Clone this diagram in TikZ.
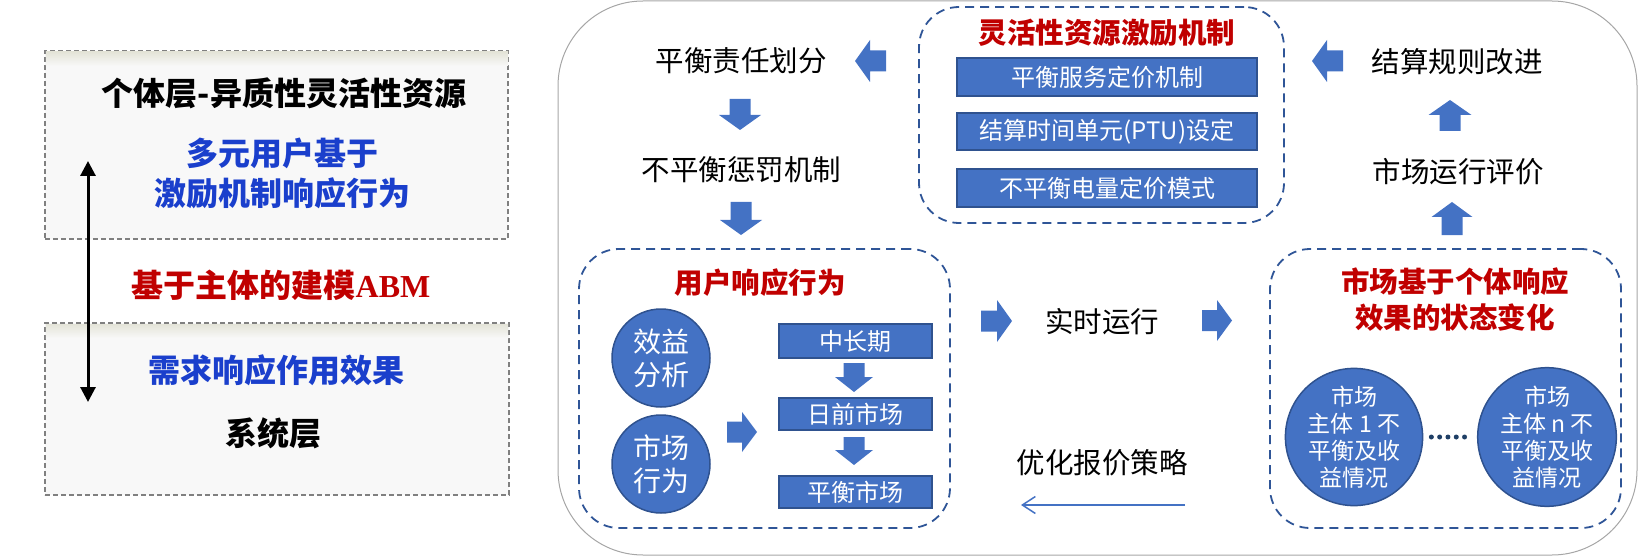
\documentclass[tikz,border=0pt]{standalone}
\usepackage{fontspec}
\setmainfont{Noto Sans CJK SC}
\newfontfamily\timesbf{Liberation Serif}
\usetikzlibrary{arrows.meta}
\definecolor{sblue}{HTML}{4472C4}
\definecolor{sborder}{HTML}{2F528F}
\definecolor{dblue}{HTML}{2F5597}
\definecolor{tblue}{HTML}{1A3FCC}
\definecolor{tred}{HTML}{C00000}
\definecolor{lgray}{HTML}{F8F8F8}
\definecolor{bandgray}{HTML}{E4E4D8}
\definecolor{dotblue}{HTML}{1F3F66}
\definecolor{framegray}{HTML}{A6A6A6}
\tikzset{
  txt/.style={inner sep=0, align=center, text=black, font=\fontsize{28.5}{34}\selectfont},
  lefttxt/.style={inner sep=0, align=center, font=\fontsize{32}{40}\selectfont\bfseries},
  redtitle/.style={inner sep=0, align=center, text=tred, font=\fontsize{28.5}{36}\selectfont\bfseries},
  bluebox/.style={draw=sborder, line width=1.5pt, fill=sblue, text=white, inner sep=0, font=\fontsize{24}{28}\selectfont},
  bluecircle/.style={circle, draw=sborder, line width=1.5pt, fill=sblue, text=white, inner sep=0, align=center},
  dashbox/.style={draw=dblue, line width=1.8pt, dash pattern=on 9pt off 6pt, rounded corners=40pt, inner sep=0},
  graybox/.style={draw=gray, fill=lgray, line width=1.5pt, dash pattern=on 5pt off 3pt, inner sep=0},
  pics/barr/.style 2 args={code={
    \fill[sblue] ({-#1/2},-10.5) -- ({#1/2-15},-10.5) -- ({#1/2-15},{-#2/2}) -- ({#1/2},0)
      -- ({#1/2-15},{#2/2}) -- ({#1/2-15},10.5) -- ({-#1/2},10.5) -- cycle;}}
}
\begin{document}
\begin{tikzpicture}[x=1pt,y=-1pt]
\useasboundingbox (0,0) rectangle (1638,556);

% ---------- left panel ----------
\node[graybox, minimum width=463pt, minimum height=188pt] (topbox) at (276.5,145) {};
\shade[top color=bandgray, bottom color=lgray] (45.8,52) rectangle (508.2,66);
\node[graybox, minimum width=464pt, minimum height=172pt] (botbox) at (277,409) {};
\shade[top color=bandgray, bottom color=lgray] (45.8,324) rectangle (508.2,338);

\node[lefttxt, text=black] (t1) at (284,93) {个体层-异质性灵活性资源};
\node[lefttxt, text=tblue] (t2) at (282,173) {多元用户基于\\激励机制响应行为};
\node[lefttxt, text=tred] (t3) at (281,285) {基于主体的建模{\timesbf\bfseries ABM}};
\node[lefttxt, text=tblue] (t4) at (276,370) {需求响应作用效果};
\node[lefttxt, text=black] (t5) at (273,433) {系统层};

\coordinate (d1) at (88,161);
\coordinate (d2) at (88,402);
\draw[line width=3pt, {Triangle[length=15pt,width=15pt]}-{Triangle[length=15pt,width=15pt]}] (d1) -- (d2);

% ---------- right panel ----------
\node[draw=framegray, line width=1pt, rounded corners=85pt, minimum width=1079pt, minimum height=554pt, inner sep=0] (frame) at (1097.5,278) {};

% top middle box
\node[dashbox, minimum width=365pt, minimum height=216pt] (g1) at (1101.5,115) {};
\node[redtitle] (g1t) at (1107,33) {灵活性资源激励机制};
\node[bluebox, minimum width=300pt, minimum height=38pt] (r1) at (1107,77) {平衡服务定价机制};
\node[bluebox, minimum width=300pt, minimum height=37pt] (r2) at (1107,131.5) {结算时间单元(PTU)设定};
\node[bluebox, minimum width=300pt, minimum height=38pt] (r3) at (1107,188) {不平衡电量定价模式};

% left column
\node[txt] (p1) at (741,61) {平衡责任划分};
\node[txt] (p2) at (741.5,170) {不平衡惩罚机制};
\pic[rotate=180] at (870.5,61) {barr={31}{42}};
\pic[rotate=-90] at (740,114.5) {barr={31}{42}};
\pic[rotate=-90] at (741,218.5) {barr={33}{42}};

% right column
\node[txt] (q1) at (1457,62) {结算规则改进};
\node[txt] (q2) at (1458,172) {市场运行评价};
\pic[rotate=180] at (1327.5,61) {barr={31}{42}};
\pic[rotate=90] at (1450,115.5) {barr={31}{43}};
\pic[rotate=90] at (1452,218.5) {barr={33}{41}};

% user response box
\node[dashbox, minimum width=371pt, minimum height=279pt] (g2) at (764.5,388.5) {};
\node[redtitle] (g2t) at (760,283) {用户响应行为};
\node[bluecircle, minimum size=98pt, font=\fontsize{28}{33}\selectfont] (c1) at (661,358) {效益\\分析};
\node[bluecircle, minimum size=98pt, font=\fontsize{28}{33}\selectfont] (c2) at (661,464) {市场\\行为};
\pic at (742,432) {barr={30}{40}};
\node[bluebox, minimum width=153pt, minimum height=34pt] (b1) at (855.5,341) {中长期};
\node[bluebox, minimum width=153pt, minimum height=32pt] (b2) at (855.5,414) {日前市场};
\node[bluebox, minimum width=153pt, minimum height=32pt] (b3) at (855.5,492) {平衡市场};
\pic[rotate=-90] at (854,377.5) {barr={29}{38}};
\pic[rotate=-90] at (854,451) {barr={28}{38}};

% middle
\pic at (996.5,321) {barr={31}{42}};
\node[txt] (m1) at (1102,322) {实时运行};
\pic at (1217,320.5) {barr={30}{41}};
\node[txt] (m2) at (1102,463) {优化报价策略};
\coordinate (a1) at (1185,505);
\coordinate (a2) at (1021,505);
\draw[sblue, line width=1.5pt, -{Straight Barb[length=13pt,width=17pt,line width=1.5pt]}] (a1) -- (a2);

% market box
\node[dashbox, minimum width=351pt, minimum height=279pt] (g3) at (1445.5,388.5) {};
\node[redtitle] (g3t) at (1455,300) {市场基于个体响应\\效果的状态变化};
\node[bluecircle, minimum size=126pt, font=\fontsize{23}{27}\selectfont] (e1) at (1354,437) {市场\\主体 1 不\\平衡及收\\益情况};
\node[bluecircle, minimum size=126pt, font=\fontsize{23}{27}\selectfont] (e2) at (1547,437) {市场\\主体 n 不\\平衡及收\\益情况};
\draw[dotblue, line width=5pt, line cap=round, dash pattern=on 0pt off 8.3pt] ([xshift=8pt]e1.east) -- ([xshift=-9pt]e2.west);
\end{tikzpicture}
\end{document}
